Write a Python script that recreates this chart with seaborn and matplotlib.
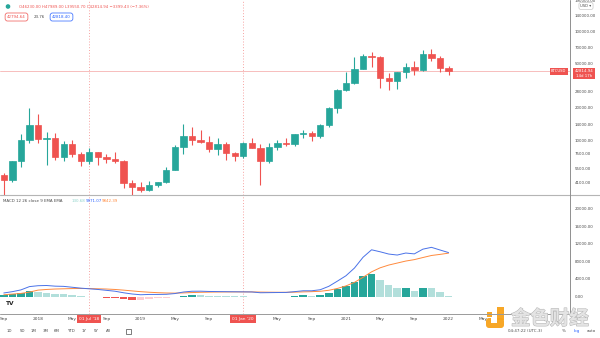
import numpy as np
import pandas as pd
import matplotlib
matplotlib.use("Agg")
import matplotlib.pyplot as plt
import matplotlib.patheffects as pe
from matplotlib.patches import Rectangle, FancyBboxPatch, Circle
from matplotlib.ticker import NullLocator
import seaborn as sns

# ---------------- data (monthly BTCUSD, Sep 2017 .. Jan 2022) ----------------
months = ["2017-09", "2017-10", "2017-11", "2017-12",
          "2018-01", "2018-02", "2018-03", "2018-04", "2018-05", "2018-06",
          "2018-07", "2018-08", "2018-09", "2018-10", "2018-11", "2018-12",
          "2019-01", "2019-02", "2019-03", "2019-04", "2019-05", "2019-06",
          "2019-07", "2019-08", "2019-09", "2019-10", "2019-11", "2019-12",
          "2020-01", "2020-02", "2020-03", "2020-04", "2020-05", "2020-06",
          "2020-07", "2020-08", "2020-09", "2020-10", "2020-11", "2020-12",
          "2021-01", "2021-02", "2021-03", "2021-04", "2021-05", "2021-06",
          "2021-07", "2021-08", "2021-09", "2021-10", "2021-11", "2021-12",
          "2022-01"]
opens = [4735, 4340, 6450, 9950,
         13850, 10220, 10330, 6930, 9240, 7500, 6390, 7730, 7030, 6630, 6370, 4040,
         3740, 3460, 3830, 4100, 5320, 8570, 10820, 10080, 9600, 8290, 9150, 7560,
         7190, 9350, 8520, 6410, 8620, 9450, 9140, 11350, 11660, 10780, 13800, 19700,
         28990, 33110, 45140, 58790, 57720, 37330, 35040, 41630, 47130, 43830, 61300, 56950,
         46230]
highs = [4980, 6470, 11400, 19800,
         17250, 11800, 11700, 9750, 10000, 7780, 8500, 7760, 7410, 7680, 6590, 4330,
         4100, 4200, 4120, 5600, 9000, 13880, 13200, 12320, 10900, 10370, 9500, 7750,
         9580, 10500, 9200, 9470, 10080, 10380, 11440, 12470, 12070, 14100, 19900, 29300,
         41950, 58350, 61800, 64850, 59500, 41330, 42400, 50500, 52900, 67000, 69000, 59050,
         47989]
lows = [2980, 4110, 5700, 9400,
        9400, 5900, 6600, 6430, 7030, 5750, 6070, 5880, 6100, 6180, 3600, 3160,
        3350, 3390, 3690, 4040, 5280, 7460, 9080, 9330, 7730, 7300, 6530, 6430,
        6850, 8400, 3850, 6150, 8100, 8830, 8900, 10520, 9880, 10380, 13240, 17600,
        28130, 32300, 44950, 47000, 30000, 28800, 29300, 37330, 39600, 43300, 53250, 42000,
        39550]
closes = [4340, 6450, 9950, 13850,
          10220, 10330, 6930, 9240, 7500, 6390, 7730, 7030, 6630, 6370, 4040, 3740,
          3460, 3830, 4100, 5320, 8570, 10820, 10080, 9600, 8290, 9150, 7560, 7190,
          9350, 8520, 6410, 8620, 9450, 9140, 11350, 11660, 10780, 13800, 19700, 28990,
          33110, 45140, 58790, 57720, 37330, 35040, 41630, 47130, 43830, 61300, 56950, 46210,
          42815]
macd_line = [800, 1100, 1500, 2250,
             2450, 2500, 2350, 2300, 2100, 1900, 1750, 1600, 1400, 1200, 850, 570,
             400, 470, 470, 500, 670, 1020, 1195, 1207, 1145, 1120, 1095, 1073,
             1055, 1033, 855, 880, 905, 927, 1107, 1300, 1300, 1538, 2313, 3488,
             4703, 6465, 8903, 10603, 10153, 9638, 9413, 9868, 9673, 10748, 11160, 10560,
             9971]
signal_line = [400, 550, 700, 1000,
               1450, 1600, 1700, 1750, 1800, 1820, 1800, 1750, 1700, 1600, 1450, 1270,
               1100, 970, 870, 800, 770, 820, 895, 957, 995, 1020, 1035, 1043,
               1045, 1043, 1005, 980, 965, 957, 987, 1050, 1100, 1188, 1413, 1828,
               2403, 3215, 4353, 5603, 6513, 7138, 7593, 8048, 8373, 8848, 9310, 9560,
               9842]
histogram = [400, 550, 800, 1250,
             1000, 900, 650, 550, 300, 80, -50, -150, -300, -400, -600, -700,
             -700, -500, -400, -300, -100, 200, 300, 250, 150, 100, 60, 30,
             10, -10, -150, -100, -60, -30, 120, 250, 200, 350, 900, 1660,
             2300, 3250, 4550, 5000, 3640, 2500, 1820, 1820, 1300, 1900, 1850, 1000,
             130]
price_ticks = [4100, 5500, 7500, 10000, 14000, 20000, 28000, 50000, 70000, 100000, 140000, 190000]
macd_ticks = [0, 4000, 8000, 12000, 16000, 20000]
time_tick_pos = [0, 4, 8, 12, 16, 20, 24, 32, 36, 40, 44, 48, 52, 56]
time_tick_labels = ["Sep", "2018", "May", "Sep", "2019", "May", "Sep", "May", "Sep",
                    "2021", "May", "Sep", "2022", "May"]
marker_pos = [10, 28]
marker_labels = ["01 Jul '18", "01 Jan '20"]
last_price = 42814.94

# ---------------- style ----------------
sns.set_theme(style="white")
plt.rcParams['font.family'] = ['DejaVu Sans', 'Noto Sans CJK SC']

GREEN = "#26a69a"
RED = "#ef5350"
LGREEN = "#b2dfdb"
LRED = "#ffcdd2"
TXT = "#4a4a4a"

W, H = 600, 338
fig = plt.figure(figsize=(6, 3.38), dpi=100)
fig.patch.set_facecolor("white")


def rect(x0, y0, x1, y1):
    return [x0 / W, 1 - y1 / H, (x1 - x0) / W, (y1 - y0) / H]


ax = fig.add_axes(rect(0, 0, 570, 195))
ax2 = fig.add_axes(rect(0, 195, 570, 314))
XL = (-0.445, 66.2)

# ---------------- candles ----------------
df = pd.DataFrame(dict(month=months, o=opens, h=highs, l=lows, c=closes))
df["i"] = np.arange(len(df))
cols = np.where(df.c >= df.o, GREEN, RED)
ax.vlines(df.i, df.l, df.h, colors=cols, linewidth=0.8, zorder=2)
ax.bar(df.i, (df.c - df.o).abs(), bottom=df[["o", "c"]].min(axis=1), width=0.74,
       color=cols, edgecolor=cols, linewidth=0.5, zorder=3)
ax.set_yscale("log")
ax.set_ylim(3129, 192500)
ax.set_xlim(*XL)
ax.axhline(last_price, color="#f6b3b2", lw=0.6, zorder=1)
ax.yaxis.tick_right()
ax.set_yticks(price_ticks)
ax.set_yticklabels([f"{v:.2f}" for v in price_ticks])
ax.yaxis.set_minor_locator(NullLocator())
ax.set_xticks([])
ax.tick_params(axis="y", length=0, pad=3.6, labelsize=2.9, labelcolor=TXT)
sns.despine(ax=ax, left=True, bottom=True, top=True, right=True)

# ---------------- MACD ----------------
hist_cols = []
prev = 0
for hv in histogram:
    if hv >= 0:
        hist_cols.append(GREEN if hv >= prev else LGREEN)
    else:
        hist_cols.append(RED if hv < prev else LRED)
    prev = hv
ax2.bar(np.arange(len(histogram)), histogram, width=0.88, color=hist_cols, linewidth=0, zorder=2)
mdf = pd.DataFrame(dict(i=np.arange(len(macd_line)), macd=macd_line, signal=signal_line))
sns.lineplot(data=mdf, x="i", y="signal", ax=ax2, color="#ff8a3d", linewidth=0.7, zorder=3)
sns.lineplot(data=mdf, x="i", y="macd", ax=ax2, color="#4a72e8", linewidth=0.7, zorder=4)
ax2.set_ylim(-3970, 23040)
ax2.set_xlim(*XL)
ax2.yaxis.tick_right()
ax2.set_yticks(macd_ticks)
ax2.set_yticklabels([f"{v:.2f}" for v in macd_ticks])
ax2.set_xticks(time_tick_pos)
ax2.set_xticklabels(time_tick_labels)
ax2.set_xlabel("")
ax2.set_ylabel("")
ax2.tick_params(axis="y", length=0, pad=3.6, labelsize=2.9, labelcolor=TXT)
ax2.tick_params(axis="x", length=0, pad=2.4, labelsize=3.2, labelcolor=TXT)
sns.despine(ax=ax2, left=True, bottom=True, top=True, right=True)

for a in (ax, ax2):
    for p in marker_pos:
        a.axvline(p, color=RED, lw=0.6, ls=(0, (1.2, 2.2)), alpha=0.6, zorder=1)

# ---------------- overlay (pixel coordinates) ----------------
ov = fig.add_axes([0, 0, 1, 1], zorder=10)
ov.set_xlim(0, W)
ov.set_ylim(H, 0)
ov.axis("off")
ov.patch.set_alpha(0)

ov.plot([0, 600], [195, 195], color="#b5b5b5", lw=0.8)
ov.plot([570, 570], [0, 316], color="#8f8f8f", lw=0.7)
ov.plot([0, 570], [314, 314], color="#9a9a9a", lw=0.7)

# time-axis marker boxes
for p, lab in zip(marker_pos, marker_labels):
    xp = 3.8 + 8.55 * p
    ov.text(xp, 319.3, lab, ha="center", va="center", fontsize=3.2, color="white",
            bbox=dict(boxstyle="square,pad=0.45", fc=RED, ec="none"))

# header
ov.add_patch(Circle((8, 6.5), 1.6, color=GREEN))
ov.text(19, 6.8, "O46230.00 H47989.00 L39550.70 C42814.94 \u22123399.43 (\u22127.36%)",
        fontsize=2.75, color=RED, ha="left", va="center")
ov.text(16.5, 17, "42794.64", fontsize=2.9, color=RED, ha="center", va="center",
        bbox=dict(boxstyle="round,pad=0.5,rounding_size=0.6", fc="white", ec=RED, lw=0.5))
ov.text(39, 17, "23.76", fontsize=2.9, color=TXT, ha="center", va="center")
ov.text(61.5, 17, "42818.40", fontsize=2.9, color="#2962ff", ha="center", va="center",
        bbox=dict(boxstyle="round,pad=0.5,rounding_size=0.6", fc="white", ec="#2962ff", lw=0.5))

# USD button
ov.text(586, 6, "USD \u25be", fontsize=2.7, color=TXT, ha="center", va="center",
        bbox=dict(boxstyle="round,pad=0.4,rounding_size=0.5", fc="white", ec="#c8c8c8", lw=0.5))

# last price labels
ov.text(558.5, 71.5, "BTCUSD", fontsize=2.7, color="white", ha="center", va="center",
        bbox=dict(boxstyle="square,pad=0.35", fc=RED, ec="none"))
ov.text(584, 73.5, "42814.94\n14d 17h", fontsize=2.8, color="white", ha="center", va="center",
        linespacing=1.1, bbox=dict(boxstyle="square,pad=0.35", fc=RED, ec="none"))

# MACD legend
ov.text(3, 201.5, "MACD 12 26 close 9 EMA EMA", fontsize=2.9, color=TXT, ha="left", va="center")
ov.text(72, 201.5, "130.68", fontsize=2.9, color="#8fd3cb", ha="left", va="center")
ov.text(86, 201.5, "9971.07", fontsize=2.9, color="#2962ff", ha="left", va="center")
ov.text(102, 201.5, "9842.39", fontsize=2.9, color="#ff8a3d", ha="left", va="center")

# TradingView logo
ov.text(10, 303.5, "TV", fontsize=4.2, color="#222222", ha="center", va="center", fontweight="bold")

# bottom toolbar
for xx, lab in zip([9, 22, 34, 46, 57, 71, 84, 96, 108],
                   ["1D", "5D", "1M", "3M", "6M", "YTD", "1Y", "5Y", "All"]):
    ov.text(xx, 331, lab, fontsize=2.9, color=TXT, ha="center", va="center")
ov.add_patch(Rectangle((125.5, 328.5), 5, 5, fill=False, ec=TXT, lw=0.5))
ov.text(525, 331, "04:47:22 (UTC-3)", fontsize=2.9, color=TXT, ha="center", va="center")
ov.text(564, 331, "%", fontsize=2.9, color=TXT, ha="center", va="center")
ov.text(577, 331, "log", fontsize=2.9, color="#2962ff", ha="center", va="center")
ov.text(591, 331, "auto", fontsize=2.9, color=TXT, ha="center", va="center")

# watermark
ov.add_patch(FancyBboxPatch((486, 318), 18, 10, boxstyle="round,pad=0,rounding_size=3",
                            fc="#f7a21b", ec="none", alpha=0.95))
ov.add_patch(Rectangle((497, 307), 7, 13, fc="#f7a21b", ec="none", alpha=0.95))
ov.add_patch(Rectangle((487, 312), 5, 5, fc="#f7a21b", ec="none", alpha=0.95))
ov.add_patch(Rectangle((491, 318), 6, 5, fc="white", ec="none"))
ov.text(550, 319, "金色财经", fontsize=14, color="#e4e4e4", ha="center", va="center",
        family=["Noto Sans CJK SC"], fontweight="bold",
        path_effects=[pe.withStroke(linewidth=0.8, foreground="#b8b8b8")])

fig.savefig("out.png", dpi=100, facecolor="white")
